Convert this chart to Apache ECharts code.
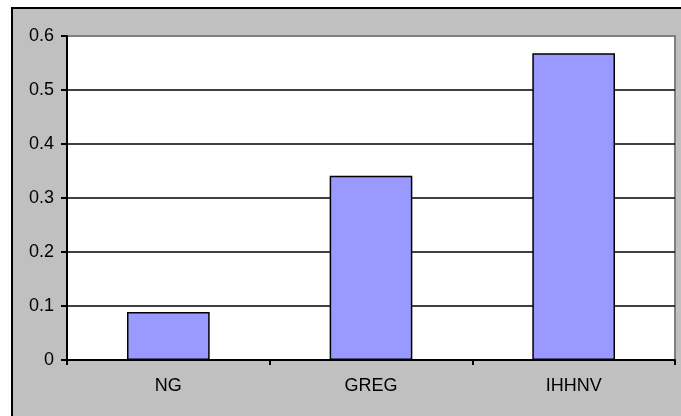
<!DOCTYPE html>
<html><head><meta charset="utf-8">
<script src="https://cdn.jsdelivr.net/npm/echarts@6/dist/echarts.min.js"></script>
<style>html,body{margin:0;padding:0;background:#fff}#c{width:681px;height:416px}</style>
</head><body><div id="c"></div>
<script>
var categories = ['NG', 'GREG', 'IHHNV'];
var values = [0.089, 0.341, 0.568];
var yTicks = [0, 0.1, 0.2, 0.3, 0.4, 0.5, 0.6];

var chart = echarts.init(document.getElementById('c'), null, {renderer: 'canvas'});
var font = '"Liberation Sans", Arial, sans-serif';
chart.setOption({
  animation: false,
  backgroundColor: '#ffffff',
  graphic: [
    {type: 'rect', z: -10, shape: {x: 12, y: 8, width: 700, height: 420},
     style: {fill: '#c0c0c0', stroke: '#000', lineWidth: 2}}
  ],
  grid: {left: 67, right: 6, top: 36, bottom: 56, show: true,
         backgroundColor: '#ffffff', borderColor: '#808080', borderWidth: 2},
  xAxis: {
    type: 'category', data: categories,
    axisLine: {lineStyle: {color: '#000', width: 2}},
    axisTick: {show: true, length: 5, lineStyle: {color: '#000', width: 2}},
    axisLabel: {color: '#000', fontSize: 18, fontFamily: font, margin: 17}
  },
  yAxis: {
    type: 'value', min: yTicks[0], max: yTicks[yTicks.length - 1], interval: 0.1,
    axisLine: {show: true, lineStyle: {color: '#000', width: 2}},
    axisTick: {show: true, length: 6, lineStyle: {color: '#000', width: 2}},
    axisLabel: {color: '#000', fontSize: 18, fontFamily: font, margin: 13,
                formatter: function (v) { return String(Math.round(v * 10) / 10); }},
    splitLine: {show: true, lineStyle: {color: ['#000','#000','#000','#000','#000','#000','#808080'], width: 1.5}}
  },
  series: [{
    type: 'bar', data: values, barWidth: '40.8%',
    itemStyle: {color: '#9999ff', borderColor: '#000', borderWidth: 1.5}
  }]
});
</script></body></html>
